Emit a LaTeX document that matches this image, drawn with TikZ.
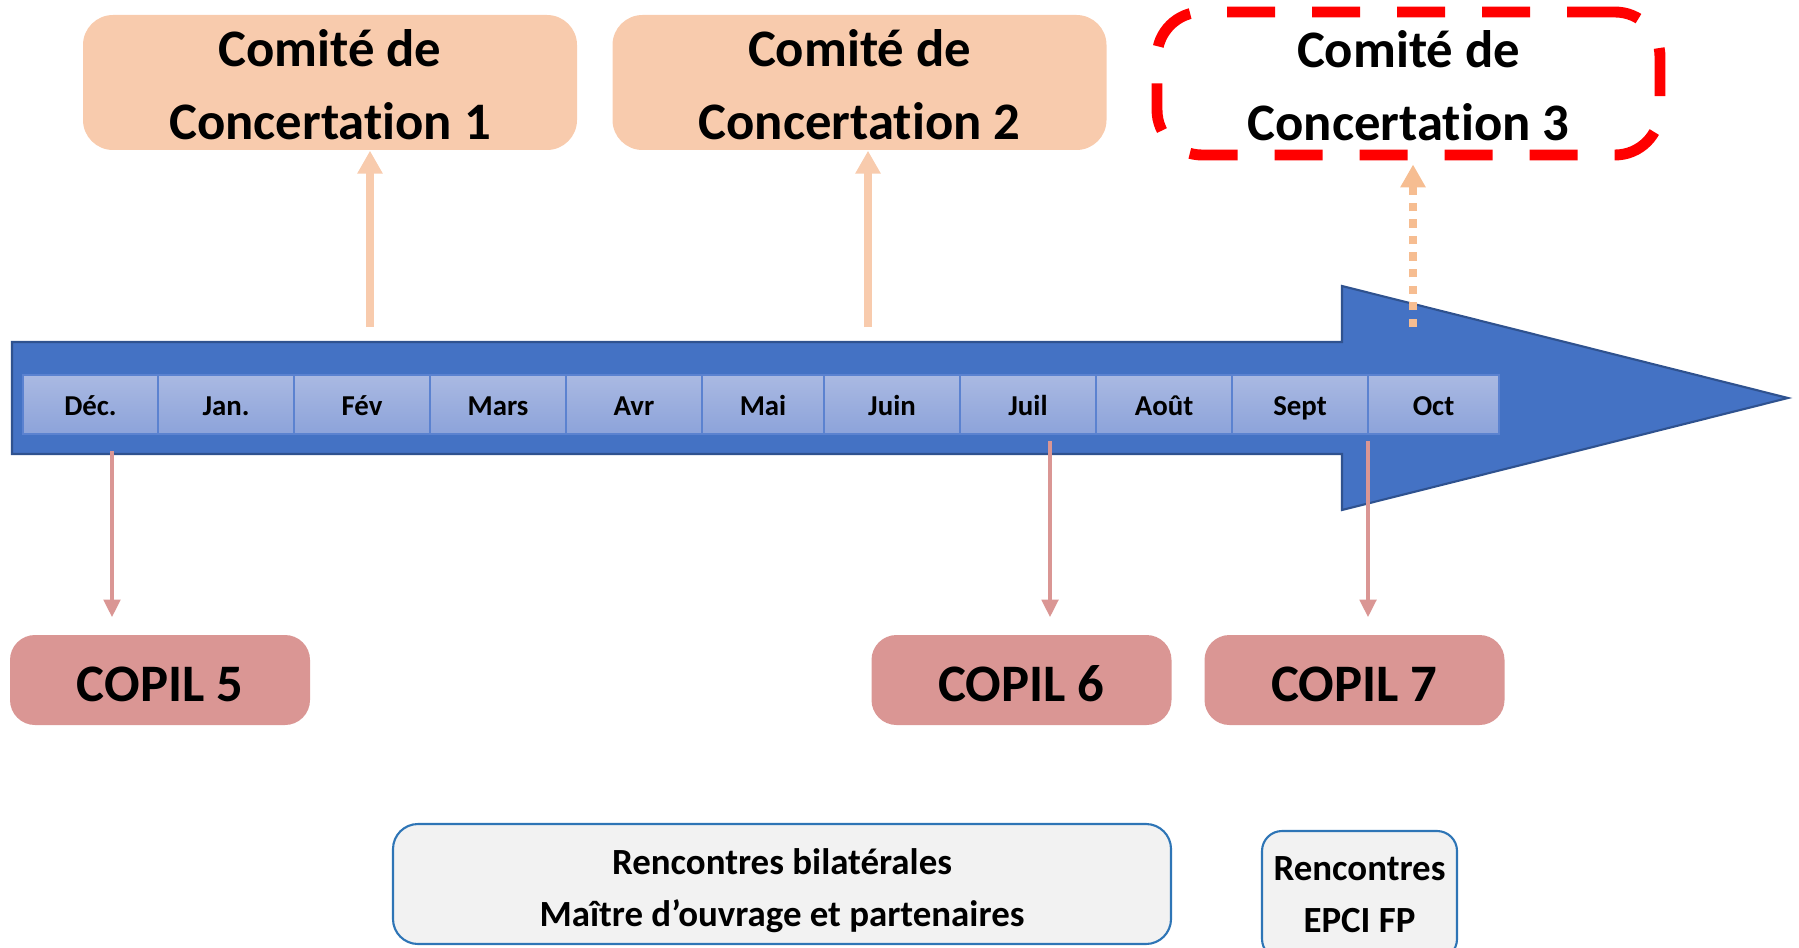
\documentclass[tikz,border=0pt]{standalone}
\usepackage{fontspec}
\setmainfont{Carlito}[Ligatures=NoCommon]
\usetikzlibrary{arrows.meta}

\definecolor{timeblue}{HTML}{4472C4}
\definecolor{timeedge}{HTML}{2F528F}
\definecolor{celltop}{HTML}{AAB9E2}
\definecolor{cellbot}{HTML}{8CA3DA}
\definecolor{celledge}{HTML}{5B82D0}
\definecolor{peach}{HTML}{F8CBAD}
\definecolor{peachdot}{HTML}{F6BD91}
\definecolor{copilpink}{HTML}{DA9694}
\definecolor{meetfill}{HTML}{F2F2F2}
\definecolor{meetedge}{HTML}{2E75B6}

\tikzset{
  month/.style={draw=celledge, line width=0.4pt, top color=celltop, bottom color=cellbot,
    minimum height=0.59cm, inner sep=0pt, text height=7pt, text depth=1pt,
    font=\fontsize{8.2}{10}\selectfont\bfseries},
  comite/.style={fill=peach, rounded corners=0.3cm, minimum width=4.94cm, minimum height=1.35cm,
    inner sep=0pt, align=center, text height=32.8pt, font=\fontsize{15}{21}\selectfont\bfseries},
  copil/.style={fill=copilpink, rounded corners=0.25cm, minimum width=3cm, minimum height=0.9cm,
    inner sep=0pt, text height=12.3pt, text depth=0pt, font=\fontsize{15}{18}\selectfont\bfseries},
  meet/.style={draw=meetedge, line width=0.6pt, fill=meetfill, inner sep=0pt, align=center,
    font=\fontsize{10.5}{14.8}\selectfont\bfseries},
  toconc/.style={peach, line width=2.3pt, -{Triangle[width=6.8pt,length=6.5pt]}},
  tocopil/.style={copilpink, line width=1.2pt, -{Triangle[width=4.6pt,length=5pt]}},
}

\begin{document}
\begin{tikzpicture}
    \clip (0,0) rectangle (17.99,-9.47);

    % timeline arrow
    \draw[fill=timeblue, draw=timeedge, line width=0.6pt]
      (0.12,-3.42) -- (13.42,-3.42) -- (13.42,-2.86) -- (17.88,-3.98)
      -- (13.42,-5.10) -- (13.42,-4.54) -- (0.12,-4.54) -- cycle;

    % months
    \foreach \i/\xa/\xb/\m in {
        0/0.23/1.58/Déc.,
        1/1.58/2.94/Jan.,
        2/2.94/4.30/Fév,
        3/4.30/5.66/Mars,
        4/5.66/7.02/Avr,
        5/7.02/8.24/Mai,
        6/8.24/9.60/Juin,
        7/9.60/10.96/Juil,
        8/10.96/12.32/Août,
        9/12.32/13.68/Sept,
        10/13.68/14.99/Oct
  } {
    \node[month, minimum width={(\xb-\xa)*1cm}] (m\i) at ({(\xa+\xb)/2},-4.045) {\m};
  }

    % comites de concertation
    \node[comite] (cc1) at (3.30,-0.825) {Comité de\\Concertation 1};
    \node[comite] (cc2) at (8.595,-0.825) {Comité de\\Concertation 2};
    \node[comite, fill=none, draw=red, line width=3.1pt, rounded corners=0.45cm,
      dash pattern=on 0.48cm off 0.37cm, minimum width=5.03cm, minimum height=1.43cm]
      (cc3) at (14.085,-0.835) {Comité de\\Concertation 3};

    \coordinate (f1) at (3.70,-3.27);
    \coordinate (f2) at (8.68,-3.27);
    \coordinate (f3) at (14.13,-3.27);
    \draw[toconc] (f1) -- (cc1.south -| f1);
    \draw[toconc] (f2) -- (cc2.south -| f2);
    \draw[toconc, peachdot, dash pattern=on 2.4pt off 2.3pt] (f3) -- ([yshift=-0.04cm]cc3.south -| f3);

    % copil
    \node[copil] (c5) at (1.60,-6.80) {COPIL 5};
    \node[copil] (c6) at (10.215,-6.80) {COPIL 6};
    \node[copil] (c7) at (13.545,-6.80) {COPIL 7};

    \coordinate (d5) at (1.12,-4.51);
    \coordinate (d6) at (10.50,-4.41);
    \coordinate (d7) at (13.68,-4.41);
    \draw[tocopil, shorten >=0.17cm] (d5) -- (d5 |- c5.north);
    \draw[tocopil, shorten >=0.17cm] (d6) -- (d6 |- c6.north);
    \draw[tocopil, shorten >=0.17cm] (d7) -- (d7 |- c7.north);

    % rencontres
    \node[meet, rounded corners=0.25cm, minimum width=7.78cm, minimum height=1.20cm, text height=26pt]
      (bil) at (7.82,-8.84) {Rencontres bilatérales\\Maître d’ouvrage et partenaires};
    \node[meet, rounded corners=0.2cm, minimum width=1.95cm, minimum height=1.28cm]
      (epci) at (13.595,-8.95) {Rencontres\\EPCI FP};
\end{tikzpicture}
\end{document}
